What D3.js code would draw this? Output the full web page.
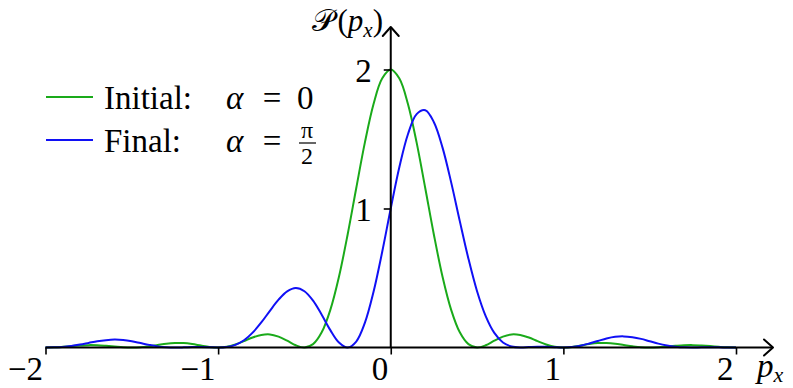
<!DOCTYPE html>
<html>
<head>
<meta charset="utf-8">
<script src="https://cdnjs.cloudflare.com/ajax/libs/d3/7.8.5/d3.min.js"></script>
<style>
  body { margin: 0; background: #fff; }
  text { font-family: "Liberation Serif", "DejaVu Serif", serif; fill: #000; }
</style>
</head>
<body>
<div id="chart"></div>
<script>

// momentum grid p_x, every 0.05
var px = [-2, -1.95, -1.9, -1.85, -1.8, -1.75, -1.7, -1.65, -1.6, -1.55,
          -1.5, -1.45, -1.4, -1.35, -1.3, -1.25, -1.2, -1.15, -1.1, -1.05,
          -1, -0.95, -0.9, -0.85, -0.8, -0.75, -0.7, -0.65, -0.6, -0.55,
          -0.5, -0.45, -0.4, -0.35, -0.3, -0.25, -0.2, -0.15, -0.1, -0.05,
          0,
          0.05, 0.1, 0.15, 0.2, 0.25, 0.3, 0.35, 0.4, 0.45, 0.5,
          0.55, 0.6, 0.65, 0.7, 0.75, 0.8, 0.85, 0.9, 0.95, 1,
          1.05, 1.1, 1.15, 1.2, 1.25, 1.3, 1.35, 1.4, 1.45, 1.5,
          1.55, 1.6, 1.65, 1.7, 1.75, 1.8, 1.85, 1.9, 1.95, 2];

// Initial: alpha = 0 (green)
var initial = [0, 0.001, 0.005, 0.010, 0.014, 0.017, 0.016, 0.012, 0.007, 0.002,
               0, 0.002, 0.009, 0.018, 0.027, 0.032, 0.032, 0.025, 0.014, 0.004,
               0, 0.005, 0.022, 0.046, 0.072, 0.090, 0.094, 0.078, 0.049, 0.016,
               0, 0.024, 0.109, 0.271, 0.509, 0.811, 1.146, 1.474, 1.750, 1.935,
               2,
               1.935, 1.750, 1.474, 1.146, 0.811, 0.509, 0.271, 0.109, 0.024, 0,
               0.016, 0.049, 0.078, 0.094, 0.090, 0.072, 0.046, 0.022, 0.005, 0,
               0.004, 0.014, 0.025, 0.032, 0.032, 0.027, 0.018, 0.009, 0.002, 0,
               0.002, 0.007, 0.012, 0.016, 0.017, 0.014, 0.010, 0.005, 0.001, 0];

// Final: alpha = pi/2 (blue)
var final = [0, 0.001, 0.004, 0.011, 0.021, 0.033, 0.045, 0.053, 0.057, 0.054,
             0.045, 0.032, 0.019, 0.008, 0.002, 0, 0.001, 0.003, 0.003, 0.002,
             0, 0.004, 0.019, 0.052, 0.107, 0.180, 0.264, 0.344, 0.404, 0.428,
             0.405, 0.337, 0.236, 0.125, 0.036, 0, 0.043, 0.177, 0.399, 0.685,
             1,
             1.298, 1.536, 1.679, 1.707, 1.621, 1.438, 1.188, 0.909, 0.639, 0.405,
             0.226, 0.105, 0.036, 0.007, 0, 0.003, 0.006, 0.005, 0.002, 0,
             0.003, 0.013, 0.029, 0.047, 0.065, 0.077, 0.080, 0.074, 0.062, 0.045,
             0.028, 0.015, 0.006, 0.001, 0, 0.001, 0.001, 0.001, 0, 0];

var xTicks = [-2, -1, 0, 1, 2];
var xTickLabels = ["\u22122", "\u22121", "0", "1", "2"];
var yTicks = [1, 2];
var yTickLabels = ["1", "2"];

var GREEN = "#1aaa1a", BLUE = "#1010f5";

function drawChart(containerId){

    var width = 793, height = 388;
    var fs = 33;

    var svg = d3.select('#'+containerId).append("svg")
        .attr("width", width)
        .attr("height", height);

    var x = d3.scaleLinear().domain([-2, 2]).range([45.5, 736]);
    var y = d3.scaleLinear().domain([0, 2]).range([347.5, 69.5]);

    var line = d3.line()
        .x(function(d) { return x(d.p); })
        .y(function(d) { return y(d.v); })
        .curve(d3.curveCatmullRom.alpha(0.5));

    var series = [
        {color: GREEN, values: initial},
        {color: BLUE, values: final}
    ];

    series.forEach(function(s) {
        var pts = px.map(function(p, i) { return {p: p, v: s.values[i]}; });
        svg.append("path")
            .attr("fill", "none")
            .attr("stroke", s.color)
            .attr("stroke-width", 2)
            .attr("stroke-linejoin", "round")
            .attr("d", line(pts));
    });

    // x axis
    var xAxis = svg.append("g")
        .attr("transform", "translate(0," + y(0) + ")")
        .call(d3.axisBottom(x).tickValues(xTicks).tickSize(7)
            .tickFormat(function(d, i) { return xTickLabels[i]; }));
    xAxis.select(".domain").remove();
    xAxis.attr("font-family", null);
    xAxis.selectAll(".tick line").attr("stroke", "#000").attr("stroke-width", 1.6);
    xAxis.selectAll(".tick text")
        .attr("text-anchor", "end")
        .attr("x", -3)
        .attr("y", 32)
        .attr("dy", 0)
        .attr("font-size", fs);

    svg.append("line")
        .attr("x1", x(-2)).attr("x2", 772)
        .attr("y1", y(0)).attr("y2", y(0))
        .attr("stroke", "#000").attr("stroke-width", 2);
    svg.append("path")
        .attr("d", "M-9,-8L0,0L-9,8")
        .attr("transform", "translate(773," + y(0) + ")")
        .attr("fill", "none").attr("stroke", "#000").attr("stroke-width", 2)
        .attr("stroke-linecap", "round").attr("stroke-linejoin", "round");

    // y axis
    var yAxis = svg.append("g")
        .attr("transform", "translate(" + x(0) + ",0)")
        .call(d3.axisLeft(y).tickValues(yTicks).tickSize(7)
            .tickFormat(function(d, i) { return yTickLabels[i]; }));
    yAxis.select(".domain").remove();
    yAxis.attr("font-family", null);
    yAxis.selectAll(".tick line").attr("stroke", "#000").attr("stroke-width", 1.6);
    yAxis.selectAll(".tick text")
        .attr("x", -19)
        .attr("dy", "0.36em")
        .attr("font-size", fs);

    svg.append("line")
        .attr("x1", x(0)).attr("x2", x(0))
        .attr("y1", y(0)).attr("y2", 28)
        .attr("stroke", "#000").attr("stroke-width", 2);
    svg.append("path")
        .attr("d", "M-8,9L0,0L8,9")
        .attr("transform", "translate(" + x(0) + ",27)")
        .attr("fill", "none").attr("stroke", "#000").attr("stroke-width", 2)
        .attr("stroke-linecap", "round").attr("stroke-linejoin", "round");

    // axis titles
    var yt = svg.append("text")
        .attr("x", 383).attr("y", 31)
        .attr("text-anchor", "end")
        .attr("font-size", 31);
    yt.append("tspan").text("\uD835\uDCAB");
    yt.append("tspan").attr("dx", 4).text("(");
    yt.append("tspan").attr("font-style", "italic").text("p");
    yt.append("tspan").attr("font-style", "italic").attr("font-size", 21).attr("dy", 6).text("x");
    yt.append("tspan").attr("dy", -6).text(")");

    var xt = svg.append("text")
        .attr("x", 757).attr("y", 377)
        .attr("font-size", fs);
    xt.append("tspan").attr("font-style", "italic").text("p");
    xt.append("tspan").attr("font-style", "italic").attr("font-size", 22).attr("dy", 5).text("x");

    // legend
    var legend = svg.append("g");

    legend.append("line")
        .attr("x1", 46).attr("x2", 93).attr("y1", 97).attr("y2", 97)
        .attr("stroke", GREEN).attr("stroke-width", 2);
    legend.append("text").attr("x", 104).attr("y", 109).attr("font-size", fs).text("Initial:");
    legend.append("text").attr("x", 226).attr("y", 109).attr("font-size", fs)
        .attr("font-style", "italic").text("α");
    legend.append("text").attr("x", 272).attr("y", 109).attr("font-size", fs)
        .attr("text-anchor", "middle").text("=");
    legend.append("text").attr("x", 297).attr("y", 109).attr("font-size", fs).text("0");

    legend.append("line")
        .attr("x1", 46).attr("x2", 93).attr("y1", 140).attr("y2", 140)
        .attr("stroke", BLUE).attr("stroke-width", 2);
    legend.append("text").attr("x", 104).attr("y", 152).attr("font-size", fs).text("Final:");
    legend.append("text").attr("x", 226).attr("y", 152).attr("font-size", fs)
        .attr("font-style", "italic").text("α");
    legend.append("text").attr("x", 272).attr("y", 152).attr("font-size", fs)
        .attr("text-anchor", "middle").text("=");
    legend.append("text").attr("x", 307).attr("y", 138).attr("font-size", 24)
        .attr("text-anchor", "middle").text("π");
    legend.append("line")
        .attr("x1", 299).attr("x2", 316).attr("y1", 143).attr("y2", 143)
        .attr("stroke", "#000").attr("stroke-width", 1.2);
    legend.append("text").attr("x", 307).attr("y", 164).attr("font-size", 24)
        .attr("text-anchor", "middle").text("2");
}

drawChart('chart');

</script>
</body>
</html>
